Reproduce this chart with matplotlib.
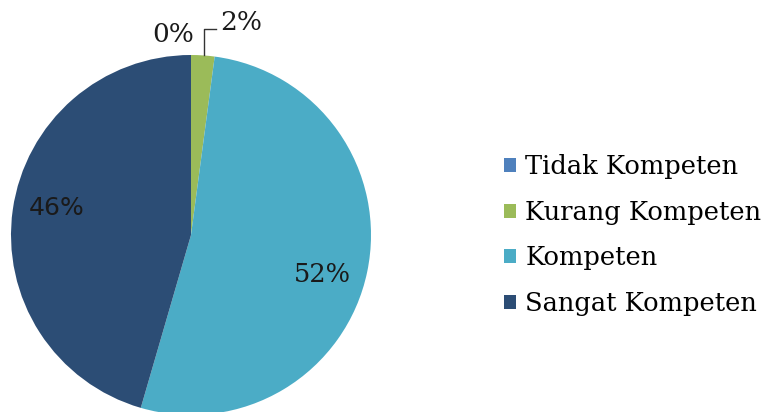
import matplotlib.pyplot as plt
from matplotlib.patches import Patch

categories = ["Tidak Kompeten", "Kurang Kompeten", "Kompeten", "Sangat Kompeten"]
values = [0.0, 2.1, 52.4, 45.5]
pct_labels = ["0%", "2%", "52%", "46%"]
colors = ["#4F81BD", "#9BBB59", "#4BACC6", "#2C4D75"]

serif = "DejaVu Serif"

fig = plt.figure(figsize=(7.65, 4.12), dpi=100)
ax = fig.add_axes([11 / 765, -3 / 412, 360 / 765, 360 / 412])

wedges, _ = ax.pie(
    values,
    colors=colors,
    startangle=90,
    counterclock=False,
    radius=1.0,
    wedgeprops=dict(linewidth=0),
)
ax.set_xlim(-1, 1)
ax.set_ylim(-1, 1)
ax.set_aspect("equal")
ax.axis("off")


def px(x, y):
    # pixel position in the picture -> pie data coords
    return (x - 191) / 180, (235 - y) / 180


# labels
ax.text(*px(173, 35), pct_labels[0], ha="center", va="center",
        fontsize=19, family=serif, color="#1a1a1a", clip_on=False)
ax.text(*px(241, 22), pct_labels[1], ha="center", va="center",
        fontsize=19, family=serif, color="#1a1a1a", clip_on=False)
ax.text(*px(322, 275), pct_labels[2], ha="center", va="center",
        fontsize=18.5, family=serif, color="#1a1a1a")
ax.text(*px(57, 208), pct_labels[3], ha="center", va="center",
        fontsize=18, family="DejaVu Sans", color="#1a1a1a")

# leader line for the small slice
lx = [px(204, 55)[0], px(204, 29)[0], px(216, 29)[0]]
ly = [px(204, 55)[1], px(204, 29)[1], px(216, 29)[1]]
ax.plot(lx, ly, color="#333333", lw=1, clip_on=False)

handles = [Patch(facecolor=c, edgecolor="none") for c in colors]
fig.legend(
    handles,
    categories,
    loc="center left",
    bbox_to_anchor=(481 / 765, 1 - 235 / 412),
    frameon=False,
    prop=dict(family=serif, size=18.5),
    handlelength=0.47,
    handleheight=0.47,
    handletextpad=0.35,
    labelspacing=0.8,
)

fig.savefig("out.png", dpi=100)
